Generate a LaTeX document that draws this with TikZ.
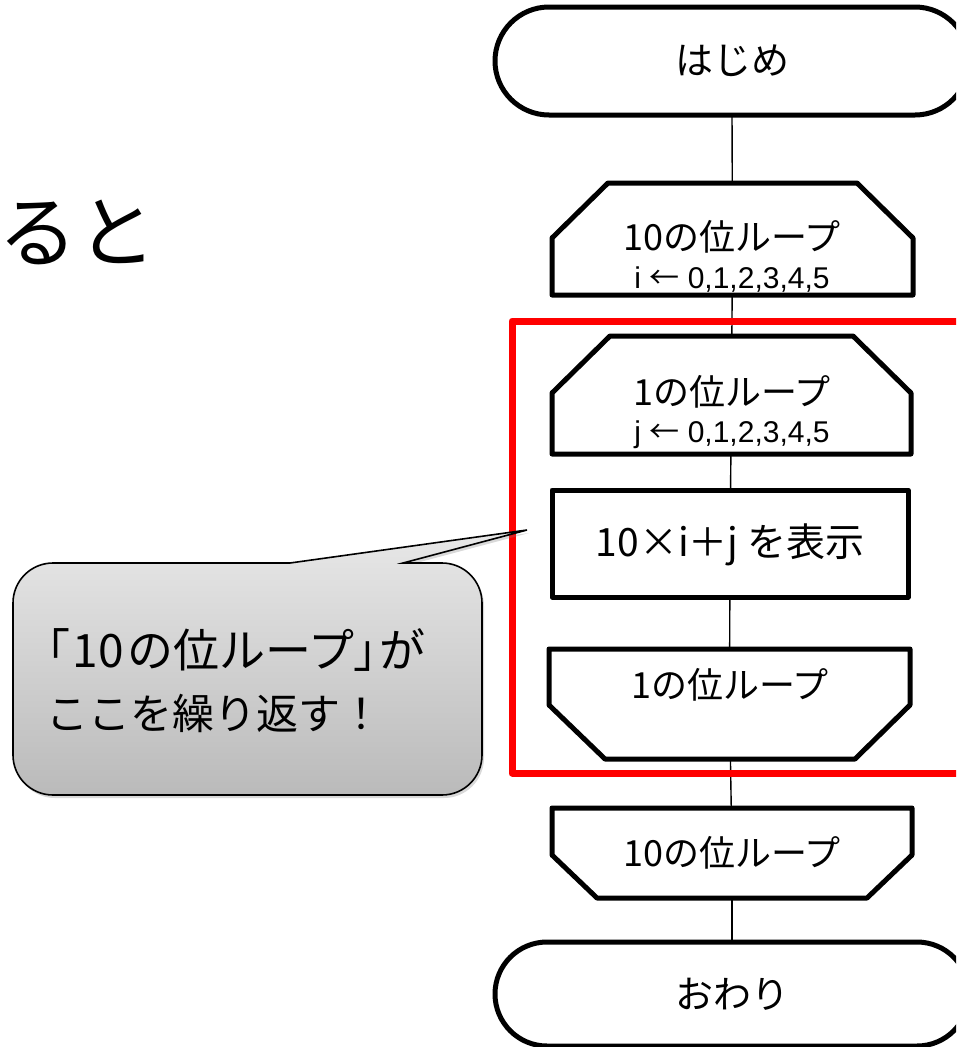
\documentclass[tikz,border=0pt]{standalone}
\usepackage{fontspec}
\setmainfont{Noto Sans CJK JP}
\newfontfamily\jpf{Noto Sans CJK JP}
\newfontfamily\jpprop[RawFeature=+palt]{Noto Sans CJK JP}
\newfontfamily\arialf{Liberation Sans}
\usetikzlibrary{shapes.misc,shadows}
\tikzset{
  term/.style={rounded rectangle, draw=black, line width=5pt, fill=white,
    minimum width=474pt, minimum height=108pt, inner sep=0pt, outer sep=0pt,
    font=\fontsize{38pt}{44pt}\selectfont},
  anchorbox/.style={rectangle, inner sep=0pt, outer sep=0pt},
  outline/.style={draw=black, line width=5pt, fill=white, line join=round},
  lbl/.style={inner sep=0pt, font=\fontsize{36pt}{42pt}\selectfont},
  sublbl/.style={inner sep=0pt, font=\arialf\fontsize{30pt}{36pt}\selectfont},
  conn/.style={draw=black, line width=1.4pt},
  loopbox/.style={draw=red, line width=7pt, line join=round},
  calloutbody/.style={draw=black, line width=1.6pt, top color=black!9, bottom color=black!27,
    drop shadow={shadow xshift=2pt, shadow yshift=-3pt, opacity=0.3}},
  notetext/.style={inner sep=0pt, anchor=west},
}
\begin{document}
\begin{tikzpicture}[x=1pt,y=-1pt]
\useasboundingbox (0,0) rectangle (956,1047);
\clip (0,0) rectangle (956,1047);

% title fragment
\node[anchor=west, inner sep=0pt, font=\fontsize{79pt}{84pt}\selectfont] (title) at (-2,232) {ると};

% invisible anchor boxes for custom shapes
\node[anchorbox, minimum width=361pt, minimum height=112pt] (L1) at (732.5,239) {};
\node[anchorbox, minimum width=359pt, minimum height=118pt] (L2) at (731.5,395) {};
\node[anchorbox, minimum width=356pt, minimum height=107pt] (P)  at (730,543.5) {};
\node[anchorbox, minimum width=361pt, minimum height=110pt] (E1) at (729.5,704) {};
\node[anchorbox, minimum width=360pt, minimum height=90pt]  (E2) at (732,853) {};

% connectors
\draw[conn] (732,115) -- (L1);
\draw[conn] (L1) -- (L2);
\draw[conn] (L2) -- (P);
\draw[conn] (P) -- (E1);
\draw[conn] (E1) -- (E2);
\draw[conn] (E2) -- (732,942);

% terminals
\node[term] (start) at (732,61) {はじめ};
\node[term, minimum height=104pt] (stop) at (732,994) {おわり};

% loop start (10)
\path[outline] (552,295) -- (552,238) -- (608,183) -- (857,183) -- (913,238) -- (913,295) -- cycle;
\node[lbl] (L1t) at (732,237) {10の位ループ};
\node[sublbl] (L1s) at (732,280) {i {\jpf ←} 0,1,2,3,4,5};

% loop start (1)
\path[outline] (552,454) -- (552,393) -- (610,336) -- (853,336) -- (911,393) -- (911,454) -- cycle;
\node[lbl] (L2t) at (732,392) {1の位ループ};
\node[sublbl] (L2s) at (732,435) {j {\jpf ←} 0,1,2,3,4,5};

% process
\path[outline] (552,490) rectangle (908,597);
\node[lbl, font=\fontsize{39pt}{45pt}\selectfont] (Pt) at (730,545) {10×i＋j を表示};

% loop end (1)
\path[outline] (549,649) -- (910,649) -- (910,705) -- (855,759) -- (605,759) -- (549,705) -- cycle;
\node[lbl] (E1t) at (730,685) {1の位ループ};

% loop end (10)
\path[outline] (552,808) -- (912,808) -- (912,855) -- (867,898) -- (597,898) -- (552,855) -- cycle;
\node[lbl] (E2t) at (732,853) {10の位ループ};

% red frame
\draw[loopbox] (990,321) -- (512,321) -- (512,773) -- (990,773);

% callout
\path[calloutbody] (290,563) -- (527,530) -- (403,563) -- (442,563)
  .. controls (464.1,563) and (482,580.9) .. (482,603) -- (482,755)
  .. controls (482,777.1) and (464.1,795) .. (442,795) -- (53,795)
  .. controls (30.9,795) and (13,777.1) .. (13,755) -- (13,603)
  .. controls (13,580.9) and (30.9,563) .. (53,563) -- cycle;
\node[notetext, font=\fontsize{46pt}{50pt}\selectfont] (note1) at (46,650)
  {{\jpprop 「}\hspace{3pt}1\hspace{1pt}0\hspace{3pt}の位ループ{\jpprop 」}\hspace{2pt}が};
\node[notetext, font=\fontsize{42pt}{50pt}\selectfont] (note2) at (46,713) {ここを繰り返す！};
\end{tikzpicture}
\end{document}
